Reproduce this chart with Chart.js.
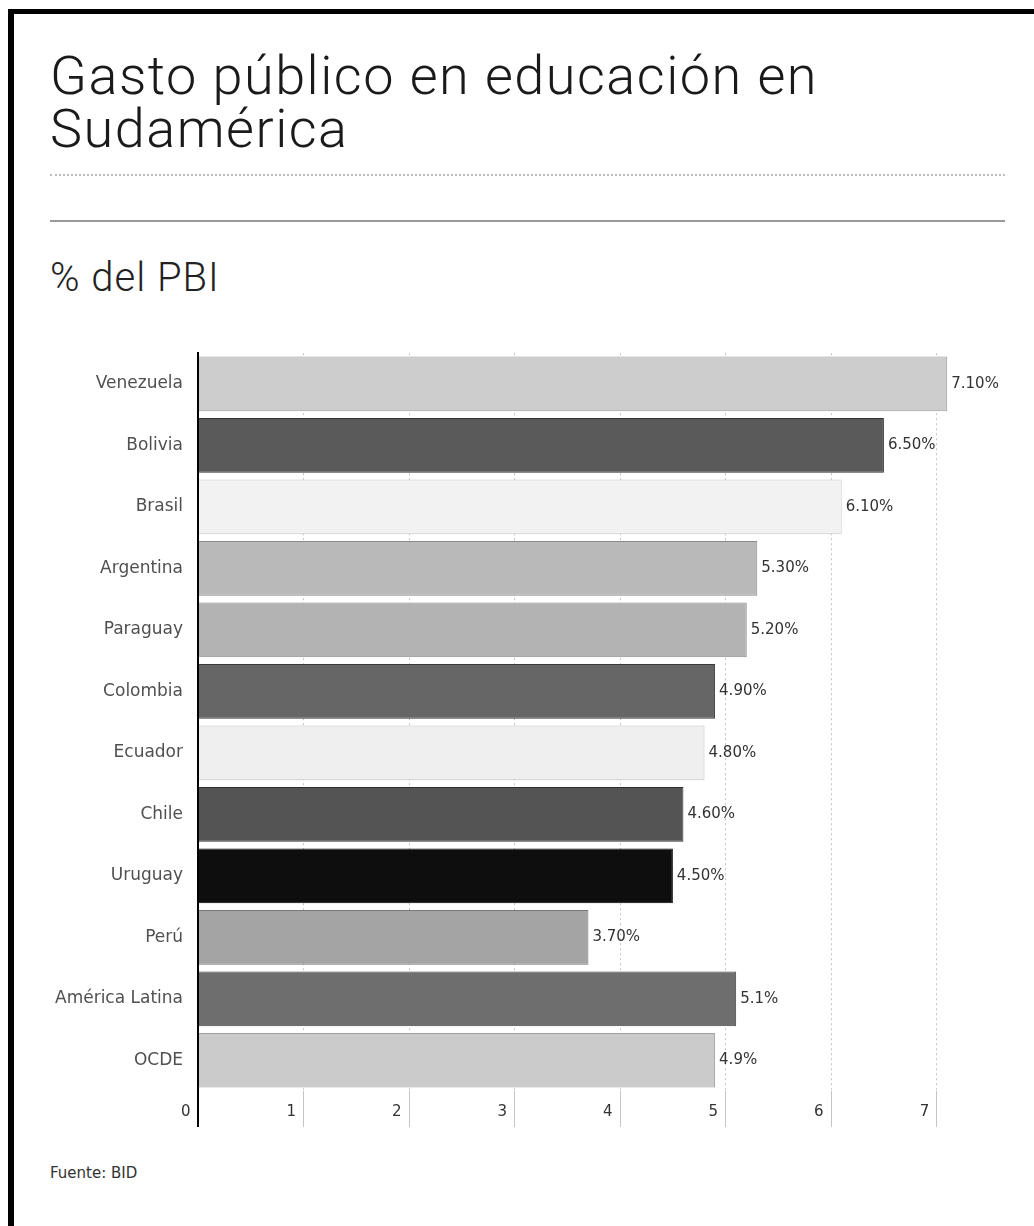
<!DOCTYPE html>
<html>
<head>
<meta charset="utf-8">
<script src="https://cdn.jsdelivr.net/npm/chart.js@4.4.0/dist/chart.umd.min.js"></script>
<style>
	body { margin: 0; background: #fff; width: 1034px; height: 1226px; overflow: hidden; position: relative; }
	#frame { position: absolute; left: 8px; top: 9px; width: 1040px; height: 1240px; border-left: 6px solid #000; border-top: 5px solid #000; }
	#title { position: absolute; left: 50px; top: 49px; font-family: Roboto, sans-serif; font-size: 54px; line-height: 53px; letter-spacing: 1.5px; color: #1a1a1a; margin: 0; font-weight: 300; }
	#line1 { position: absolute; left: 50px; top: 174px; width: 955px; border-top: 2px dotted #bdbdbd; }
	#line2 { position: absolute; left: 50px; top: 220px; width: 955px; border-top: 2px solid #9a9a9a; }
	#sub { position: absolute; left: 50px; top: 254px; font-family: Roboto, sans-serif; font-size: 40px; letter-spacing: 1px; color: #222; font-weight: 300; }
	#wrap { position: absolute; left: 14px; top: 328px; width: 1020px; height: 830px; }
	#src { position: absolute; left: 50px; top: 1164px; font-family: "DejaVu Sans", sans-serif; font-size: 15px; color: #333; }
</style>
</head>
<body>
<div id="frame"></div>
<div id="title">Gasto público en educación en<br>Sudamérica</div>
<div id="line1"></div>
<div id="line2"></div>
<div id="sub">% del PBI</div>
<div id="wrap"><canvas id="mycanvas"></canvas></div>
<div id="src">Fuente: BID</div>
<script>
var paises = ["Venezuela", "Bolivia", "Brasil", "Argentina", "Paraguay", "Colombia", "Ecuador", "Chile", "Uruguay", "Perú", "América Latina", "OCDE"];
var gasto = [7.1, 6.5, 6.1, 5.3, 5.2, 4.9, 4.8, 4.6, 4.5, 3.7, 5.1, 4.9];
var etiquetas = ["7.10%", "6.50%", "6.10%", "5.30%", "5.20%", "4.90%", "4.80%", "4.60%", "4.50%", "3.70%", "5.1%", "4.9%"];
var ticksX = [0, 1, 2, 3, 4, 5, 6, 7];

var relleno = ["#cdcdcd", "#5a5a5a", "#f2f2f2", "#b9b9b9", "#b3b3b3", "#666666", "#efefef", "#545454", "#0e0e0e", "#a4a4a4", "#6e6e6e", "#cbcbcb"];
var borde = ["#9a9a9a", "#333333", "#c8c8c8", "#8a8a8a", "#888888", "#3a3a3a", "#c0c0c0", "#2e2e2e", "#000000", "#777777", "#444444", "#a0a0a0"];

// etiquetas de valor al final de cada barra
var valorPlugin = {
	id: 'valores',
	afterDatasetsDraw: function(chart) {
		var ctx = chart.ctx;
		var meta = chart.getDatasetMeta(0);
		ctx.save();
		ctx.font = '15px "DejaVu Sans"';
		ctx.fillStyle = '#333';
		ctx.textAlign = 'left';
		ctx.textBaseline = 'middle';
		meta.data.forEach(function(bar, i) {
			ctx.fillText(etiquetas[i], bar.x + 4, bar.y);
		});
		ctx.restore();
	}
};

var ctx = document.getElementById("mycanvas");
var grafico = new Chart(ctx, {
	type: 'bar',
	data: {
		labels: paises,
		datasets: [
			{
				label: "% del PBI",
				data: gasto,
				backgroundColor: relleno,
				borderColor: borde,
				borderWidth: 1,
				categoryPercentage: 1,
				barPercentage: 0.89
			}
		]
	},
	options: {
		indexAxis: 'y',
		responsive: true,
		maintainAspectRatio: false,
		animation: false,
		layout: { padding: { top: 23, right: 34, bottom: 17, left: 0 } },
		plugins: {
			legend: { display: false },
			tooltip: { enabled: false }
		},
		scales: {
			x: {
				min: 0,
				max: 7.6,
				afterFit: function(s) { s.height = 50; },
				afterBuildTicks: function(s) {
					s.ticks = ticksX.map(function(v) { return { value: v }; });
				},
				grid: {
					color: function(c) { return c.tick && c.tick.value === 0 ? '#000' : '#c4c4c4'; },
					lineWidth: function(c) { return c.tick && c.tick.value === 0 ? 2 : 1; },
					tickLength: 36,
					drawOnChartArea: true
				},
				border: { display: false, dash: [2, 3] },
				ticks: {
					align: 'end',
					padding: -24,
					color: '#333',
					font: { family: 'DejaVu Sans', size: 15 },
					callback: function(v) { return v + '\u2002'; }
				}
			},
			y: {
				afterFit: function(s) { s.width = 184; },
				grid: { display: false, drawTicks: false },
				border: { display: true, color: '#000', width: 2 },
				ticks: {
					padding: 15,
					color: '#505050',
					font: { family: 'DejaVu Sans', size: 17 }
				}
			}
		}
	},
	plugins: [valorPlugin]
});
</script>
</body>
</html>
